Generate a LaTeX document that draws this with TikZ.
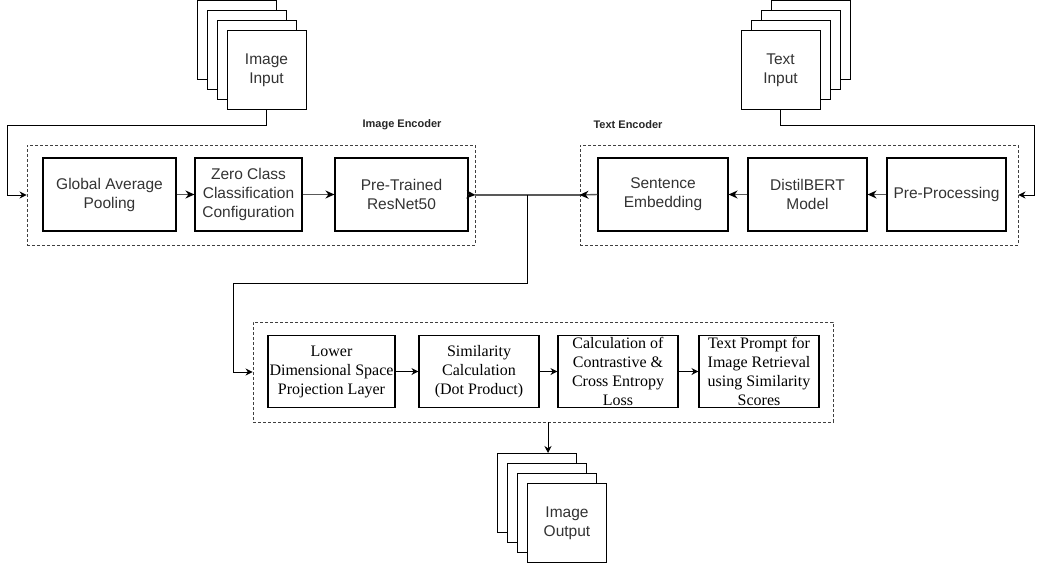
\documentclass[tikz,border=0pt]{standalone}
\usepackage{fontspec}
\setmainfont{Liberation Serif}
\setsansfont{Liberation Sans}
\usetikzlibrary{arrows.meta}

\tikzset{
	blk/.style={draw, line width=1.1pt, minimum height=73pt, inner sep=0pt, align=center,
		font=\sffamily\fontsize{15.5}{19}\selectfont, text=black!80},
	serifblk/.style={draw, line width=1.1pt, minimum width=120pt, minimum height=72pt, inner sep=0pt,
		align=center, font=\fontsize{16}{19}\selectfont},
	sheet/.style={draw, fill=white, line width=1pt, minimum width=79pt, minimum height=79pt, inner sep=0pt,
		align=center, font=\sffamily\fontsize{15.5}{19}\selectfont, text=black!80},
	group/.style={draw=black!75, line width=0.9pt, dash pattern=on 3pt off 2pt, minimum height=100pt, inner sep=0pt},
	grouplabel/.style={font=\sffamily\bfseries\fontsize{11}{13}\selectfont, text=black!85},
	flow/.style={-{Stealth[length=9pt,width=8pt,color=black]}, line width=1.4pt, draw=black!65},
	elbow/.style={-{Stealth[length=7pt,width=7pt]}, line width=0.9pt},
}

\begin{document}
\begin{tikzpicture}[x=1pt, y=-1pt]
	\useasboundingbox (0,0) rectangle (1048,564);

	% dashed groups
	\node[group, minimum width=448pt] (imgenc) at (251,195) {};
	\node[group, minimum width=438pt] (txtenc) at (799,195) {};
	\node[group, minimum width=580pt] (btm) at (543,372) {};
	\node[grouplabel] at (402,125) {Image Encoder};
	\node[grouplabel] at (628,125) {Text Encoder};

	% image input stack
	\node[sheet] (imgin3) at (236.5,40.5) {};
	\node[sheet] (imgin2) at (246.5,50.5) {};
	\node[sheet] (imgin1) at (256.5,60.5) {};
	\node[sheet] (imgin) at (266.5,70.5) {Image\\Input};

	% text input stack
	\node[sheet] (txtin3) at (810.5,40.5) {};
	\node[sheet] (txtin2) at (800.5,50.5) {};
	\node[sheet] (txtin1) at (790.5,60.5) {};
	\node[sheet] (txtin) at (780.5,70.5) {Text\\Input};

	% image output stack
	\node[sheet] (imgout3) at (537,493) {};
	\node[sheet] (imgout2) at (547,503) {};
	\node[sheet] (imgout1) at (557,513) {};
	\node[sheet] (imgout) at (567,523) {Image\\Output};

	% encoder blocks
	\node[blk, minimum width=133pt] (gap) at (109.5,194.5) {Global Average\\Pooling};
	\node[blk, minimum width=107pt] (zcc) at (248.5,194.5) {Zero Class\\Classification\\Configuration};
	\node[blk, minimum width=133pt] (resnet) at (401.5,194.5) {Pre-Trained\\ResNet50};
	\node[blk, minimum width=130pt] (sent) at (663,194.5) {Sentence\\Embedding};
	\node[blk, minimum width=119pt] (bert) at (807.5,194.5) {DistilBERT\\Model};
	\node[blk, minimum width=119pt] (prep) at (946.5,194.5) {Pre-Processing};

	% lower blocks
	\node[serifblk, minimum width=127pt] (proj) at (331.5,371.5) {Lower\\Dimensional Space\\Projection Layer};
	\node[serifblk] (simil) at (479,371.5) {Similarity\\Calculation\\(Dot Product)};
	\node[serifblk] (loss) at (618,371.5) {Calculation of\\Contrastive \&\\Cross Entropy\\Loss};
	\node[serifblk] (prompt) at (759,371.5) {Text Prompt for\\Image Retrieval\\using Similarity\\Scores};

	% bends
	\coordinate (lbend) at (7,125);
	\coordinate (rbend) at (1034,125);
	\coordinate (join) at (527,195);
	\coordinate (mbend) at (233,283);
	\coordinate (drop) at (548,422);

	% connectors
	\draw[elbow] (imgin.south) |- (lbend) |- (imgenc.west);
	\draw[elbow] (txtin.south) |- (rbend) |- (txtenc.east);
	\draw[flow] (gap) -- (zcc);
	\draw[flow] (zcc) -- (resnet);
	\draw[flow] (resnet.east) -- (imgenc.east);
	\draw[line width=1.4pt, black!65] (imgenc.east) -- (txtenc.west);
	\draw[flow] (prep) -- (bert);
	\draw[flow] (bert) -- (sent);
	\draw[flow] (sent.west) -- (txtenc.west);
	\draw[elbow] (join) |- (mbend) |- (btm.west);
	\draw[elbow] (proj) -- (simil);
	\draw[elbow] (simil) -- (loss);
	\draw[elbow] (loss) -- (prompt);
	\draw[elbow] (drop) -- (drop |- imgout3.north);
\end{tikzpicture}
\end{document}
